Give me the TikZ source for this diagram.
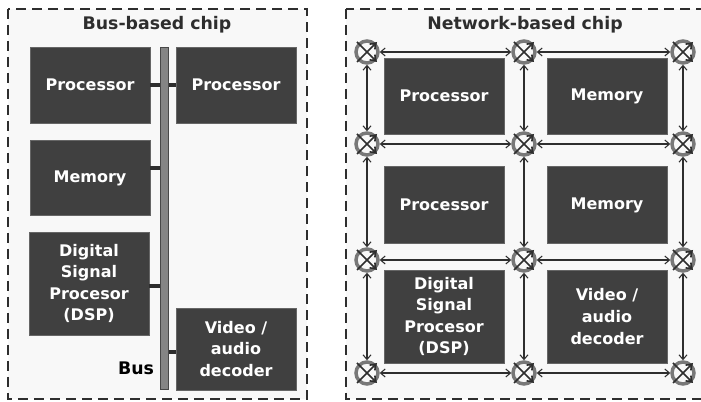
\documentclass[tikz,border=0pt]{standalone}
\usepackage{fontspec}
\setmainfont{DejaVu Sans}
\usetikzlibrary{arrows.meta}
\definecolor{boxgray}{rgb}{0.25,0.25,0.25}
\definecolor{ringgray}{rgb}{0.47,0.47,0.47}
\definecolor{ink}{rgb}{0.18,0.18,0.18}
\definecolor{chipbg}{rgb}{0.973,0.973,0.973}

\begin{document}
\begin{tikzpicture}[x=0.75pt,y=0.75pt,yscale=-1,xscale=1,
	chip/.style={draw=ink,line width=1.9pt,dash pattern=on 7.5pt off 4.5pt,fill=chipbg},
	title/.style={text=ink,font=\bfseries\fontsize{13}{15}\selectfont},
	unit/.style={fill=boxgray,draw=boxgray!80!white,line width=0.4pt,text=white,align=center,
		minimum width=90pt,font=\bfseries\fontsize{12}{16.2}\selectfont},
	busbar/.style={fill=ringgray!90!white,draw=ringgray!60!black,line width=0.7pt,minimum width=6.5pt,minimum height=257pt,inner sep=0pt},
	tap/.style={draw=ink,line width=3pt},
	router/.style={circle,draw=ringgray,line width=2.6pt,fill=chipbg,minimum size=16.5pt,inner sep=0pt},
	glyph/.style={draw=ink,line width=1.2pt,-{Straight Barb[length=4pt,width=5.5pt]}},
	link/.style={draw=ink,line width=0.8pt,{Straight Barb[length=3.5pt,width=6pt]}-{Straight Barb[length=3.5pt,width=6pt]}}]
			\useasboundingbox (0,0) rectangle (701,402);
			\clip (0,0) rectangle (701,402);
			
			% the two chips
			\draw[chip] (8,9) rectangle (307,399);
			\draw[chip] (346,9) rectangle (712,399);
			\node[title] (bustitle) at (157,25) {Bus-based chip};
			\node[title] (nettitle) at (525,25) {Network-based chip};
			
			% bus-based chip
			\node[busbar] (bus) at (164.5,218.5) {};
			\node[unit,minimum height=57pt] (bproc) at (90,85) {Processor};
			\node[unit,minimum height=57pt] (bprocb) at (236,85) {Processor};
			\node[unit,minimum height=56pt] (bmem) at (90,178) {Memory};
			\node[unit,minimum height=77pt] (bdsp) at (89,283.5) {Digital\\Signal\\Procesor\\(DSP)};
			\node[unit,minimum height=61.5pt] (bvid) at (236,349) {Video /\\audio\\decoder};
			\node[text=black,font=\bfseries\fontsize{13}{15}\selectfont] (buslabel) at (136,368) {Bus};
			
			\draw[tap] (bproc.east) -- (bproc.east -| bus.west);
			\draw[tap] (bprocb.west) -- (bprocb.west -| bus.east);
			\draw[tap] ([yshift=-7.5pt]bmem.east) -- ([yshift=-7.5pt]bmem.east -| bus.west);
			\draw[tap] ([yshift=2pt]bdsp.east) -- ([yshift=2pt]bdsp.east -| bus.west);
			\draw[tap] ([yshift=2pt]bvid.west) -- ([yshift=2pt]bvid.west -| bus.east);
			
			% network-based chip
			\node[unit,minimum height=57pt] (nproc) at (444,96) {Processor};
			\node[unit,minimum height=57pt] (nmem) at (607,96) {Memory};
			\node[unit,minimum height=57.5pt] (nprocb) at (444,205) {Processor};
			\node[unit,minimum height=57.5pt] (nmemb) at (607,205) {Memory};
			\node[unit,minimum height=70pt] (ndsp) at (444,316.5) {Digital\\Signal\\Procesor\\(DSP)};
			\node[unit,minimum height=70pt] (nvid) at (607,316.5) {Video /\\audio\\decoder};
			
			\foreach \col/\x in {1/367,2/524,3/683}
			\foreach \row/\y in {1/52,2/144,3/260,4/373}{
				\node[router] (r\row\col) at (\x,\y) {};
				\draw[glyph] (\x-10,\y-10) -- (\x+10,\y+10);
				\draw[glyph] (\x-10,\y+10) -- (\x+10,\y-10);
			}
			
			\foreach \row in {1,...,4}{
				\draw[link] (r\row1) -- (r\row2);
				\draw[link] (r\row2) -- (r\row3);
			}
			\foreach \col in {1,2,3}
			\foreach \a/\b in {1/2,2/3,3/4}
				\draw[link] (r\a\col) -- (r\b\col);
			\end{tikzpicture}
\end{document}
